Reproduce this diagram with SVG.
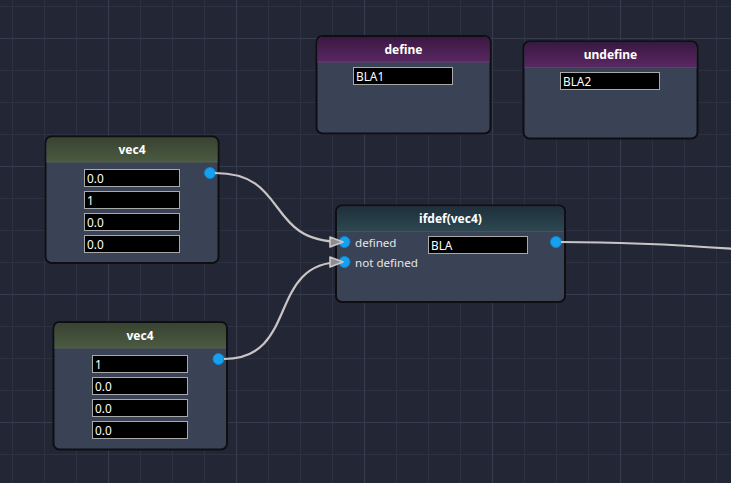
<svg xmlns="http://www.w3.org/2000/svg" width="731" height="483" viewBox="0 0 731 483">
<defs>
<pattern id="gMinor" x="12" y="6" width="32" height="32" patternUnits="userSpaceOnUse">
<path d="M0.5 0V32M0 0.5H32" stroke="#2d3142" stroke-width="1" fill="none"/>
</pattern>
<pattern id="gMajor" x="108" y="38" width="128" height="128" patternUnits="userSpaceOnUse">
<path d="M0.5 0V128M0 0.5H128" stroke="#373b4d" stroke-width="1.2" fill="none"/>
</pattern>
<linearGradient id="hGreen" x1="0" y1="0" x2="0" y2="1">
<stop offset="0" stop-color="#384331"/><stop offset="1" stop-color="#4b5a41"/>
</linearGradient>
<linearGradient id="hPurple" x1="0" y1="0" x2="0" y2="1">
<stop offset="0" stop-color="#3a1842"/><stop offset="1" stop-color="#5a2863"/>
</linearGradient>
<linearGradient id="hTeal" x1="0" y1="0" x2="0" y2="1">
<stop offset="0" stop-color="#1e303b"/><stop offset="1" stop-color="#2e4851"/>
</linearGradient>
<marker id="arr" viewBox="0 0 15 12" refX="13" refY="6" markerWidth="15" markerHeight="12" markerUnits="userSpaceOnUse" orient="auto">
<path d="M1 1L14 6L1 11Z" fill="#8f8b90" stroke="#cbc6c6" stroke-width="1.6" stroke-linejoin="round"/>
</marker>
</defs>
<style>
.body{fill:#3a4256;stroke:#0e0f12;stroke-width:2}
.title{font-family:"Noto Sans","Open Sans","Liberation Sans",sans-serif;font-size:12px;font-weight:bold;fill:#ffffff;text-anchor:middle}
.fld{fill:#000000;stroke:#a9a9a9;stroke-width:1}
.ft{font-family:"Noto Sans","Open Sans","Liberation Sans",sans-serif;font-size:11.8px;fill:#ffffff}
.lbl{font-family:"Noto Sans","Open Sans","Liberation Sans",sans-serif;font-size:11.6px;fill:#e6e6e6}
.port{fill:#17a0ee;stroke:#0d86d0;stroke-width:1}
.wire{fill:none;stroke:#cac5c5;stroke-width:2.2}
</style>
<rect width="731" height="483" fill="#232635"/>
<rect width="731" height="483" fill="url(#gMinor)"/>
<rect width="731" height="483" fill="url(#gMajor)"/>

<g id="node-vec4-a">
<rect class="body" x="45.5" y="136.5" width="173" height="126.5" rx="6"/>
<path d="M46.5 162V143.5Q46.5 137.5 52.5 137.5H211.5Q217.5 137.5 217.5 143.5V162Z" fill="url(#hGreen)"/>
<line x1="46.5" y1="162" x2="217.5" y2="162" stroke="#55634a"/>
<text class="title" x="132" y="154">vec4</text>
<rect class="fld" x="84.5" y="169.5" width="95" height="17"/><text class="ft" x="87" y="182.5">0.0</text>
<rect class="fld" x="84.5" y="191.5" width="95" height="17"/><text class="ft" x="87" y="204.5">1</text>
<rect class="fld" x="84.5" y="213.5" width="95" height="17"/><text class="ft" x="87" y="226.5">0.0</text>
<rect class="fld" x="84.5" y="235.5" width="95" height="17"/><text class="ft" x="87" y="248.5">0.0</text>
<circle class="port" cx="210" cy="173" r="5.5"/>
</g>

<g id="node-vec4-b">
<rect class="body" x="53.5" y="322" width="173.5" height="127.5" rx="6"/>
<path d="M54.5 348V329Q54.5 323 60.5 323H220Q226 323 226 329V348Z" fill="url(#hGreen)"/>
<line x1="54.5" y1="348" x2="226" y2="348" stroke="#55634a"/>
<text class="title" x="140" y="339.5">vec4</text>
<rect class="fld" x="92.5" y="355.5" width="95" height="17"/><text class="ft" x="95" y="368.5">1</text>
<rect class="fld" x="92.5" y="377.5" width="95" height="17"/><text class="ft" x="95" y="390.5">0.0</text>
<rect class="fld" x="92.5" y="399.5" width="95" height="17"/><text class="ft" x="95" y="412.5">0.0</text>
<rect class="fld" x="92.5" y="421.5" width="95" height="17"/><text class="ft" x="95" y="434.5">0.0</text>
<circle class="port" cx="218.5" cy="359" r="5.5"/>
</g>

<g id="node-define">
<rect class="body" x="316.5" y="36" width="174" height="97.5" rx="6"/>
<path d="M317.5 62V43Q317.5 37 323.5 37H483.5Q489.5 37 489.5 43V62Z" fill="url(#hPurple)"/>
<line x1="317.5" y1="62" x2="489.5" y2="62" stroke="#6a3a72"/>
<text class="title" x="403.5" y="53.5">define</text>
<rect class="fld" x="353.5" y="67.5" width="99" height="17"/><text class="ft" x="356" y="80.5">BLA1</text>
</g>

<g id="node-undefine">
<rect class="body" x="523.5" y="41.5" width="174" height="97" rx="6"/>
<path d="M524.5 67.5V48.5Q524.5 42.5 530.5 42.5H690.5Q696.5 42.5 696.5 48.5V67.5Z" fill="url(#hPurple)"/>
<line x1="524.5" y1="67.5" x2="696.5" y2="67.5" stroke="#6a3a72"/>
<text class="title" x="610.5" y="59">undefine</text>
<rect class="fld" x="560.5" y="72.5" width="99" height="17"/><text class="ft" x="563" y="85.5">BLA2</text>
</g>

<g id="node-ifdef">
<rect class="body" x="336" y="205.5" width="229" height="96.5" rx="6"/>
<path d="M337 231.5V212.5Q337 206.5 343 206.5H558Q564 206.5 564 212.5V231.5Z" fill="url(#hTeal)"/>
<line x1="337" y1="231.5" x2="564" y2="231.5" stroke="#3d5862"/>
<text class="title" x="450.5" y="223">ifdef(vec4)</text>
<rect class="fld" x="428.5" y="236.5" width="99" height="17"/><text class="ft" x="431" y="249.5">BLA</text>
<circle class="port" cx="344.5" cy="242" r="5.5"/>
<circle class="port" cx="344.5" cy="262" r="5.5"/>
<text class="lbl" x="355" y="246.5">defined</text>
<text class="lbl" x="355" y="266.5">not defined</text>
<circle class="port" cx="556" cy="242" r="5.5"/>
</g>

<g id="connectors">
<path class="wire" d="M215 173C290 173 264 242 342 242" marker-end="url(#arr)"/>
<path class="wire" d="M224 359C300 359 266 262 342 262" marker-end="url(#arr)"/>
<path class="wire" d="M561 242C630 242 680 245 735 249"/>
</g>
</svg>
